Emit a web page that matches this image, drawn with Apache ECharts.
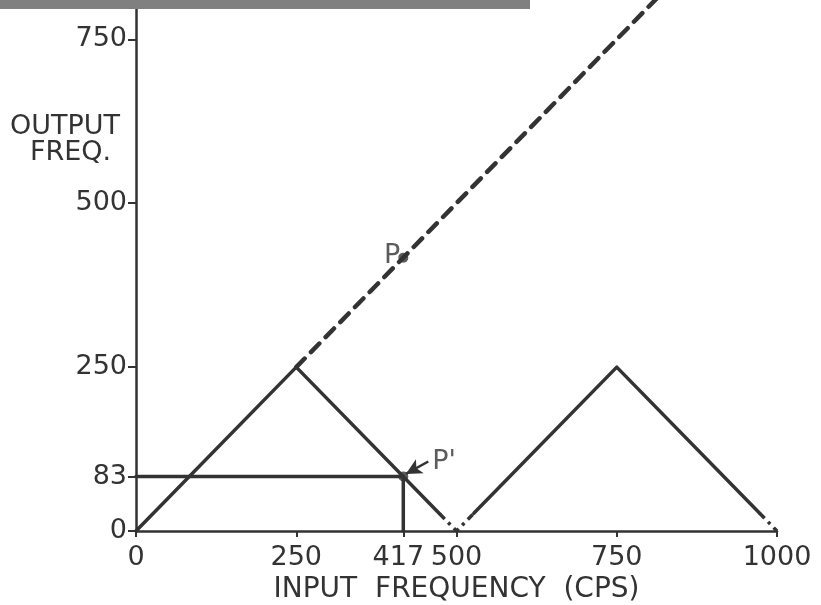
<!DOCTYPE html>
<html><head><meta charset="utf-8">
<script src="https://cdn.jsdelivr.net/npm/echarts@6/dist/echarts.min.js"></script>
<style>html,body{margin:0;padding:0;background:#fff}#c{width:821px;height:605px}</style>
</head><body><div id="c"></div>
<script>
const xTicks = [0, 250, 417, 500, 750, 1000];
const yTicks = [0, 83, 250, 500, 750];
const aliasSolidA = [[0, 0], [250, 250], [474, 26]];
const aliasDashA = [[474, 26], [500, 0], [527, 27]];
const aliasSolidB = [[527, 27], [750, 250], [973, 27]];
const aliasDashB = [[973, 27], [1000, 0]];
const trueFreq = [[250, 250], [830, 830]];
const guideH = [[0, 83], [417, 83]];
const guideV = [[417, 83], [417, 0]];
const pointP = [417, 417];
const pointPp = [417, 83];
const arrowFrom = [456, 106];

const ink = '#333333';
const font = 'DejaVu Sans';
const chart = echarts.init(document.getElementById('c'), null, {renderer: 'canvas'});

function solid(data) {
  return {type: 'line', data, symbol: 'none', lineStyle: {color: ink, width: 3.5, cap: 'round', join: 'round'}, z: 3};
}
chart.setOption({
  animation: false,
  backgroundColor: '#fff',
  grid: {left: 136, right: 44, top: 0, bottom: 74, containLabel: false, outerBoundsMode: 'none'},
  xAxis: {
    type: 'value', min: 0, max: 1000,
    name: 'INPUT  FREQUENCY  (CPS)', nameLocation: 'middle', nameGap: 44,
    nameTextStyle: {fontFamily: font, fontSize: 28, color: ink},
    axisLine: {lineStyle: {color: ink, width: 2.5}},
    axisTick: {show: true, customValues: xTicks, length: 6, lineStyle: {color: ink, width: 2}},
    axisLabel: {customValues: xTicks, hideOverlap: false,
      formatter: v => v === 417 ? '{s|417}' : String(v),
      rich: {s: {fontFamily: font, fontSize: 27, color: ink, padding: [0, 10, 0, 0]}},
      fontFamily: font, fontSize: 27, color: ink, margin: 13},
    splitLine: {show: false}
  },
  yAxis: {
    type: 'value', min: 0, max: 810,
    axisLine: {show: true, lineStyle: {color: ink, width: 2.5}},
    axisTick: {show: true, customValues: yTicks, length: 8, lineStyle: {color: ink, width: 2}},
    axisLabel: {customValues: yTicks, fontFamily: font, fontSize: 27, color: ink, margin: 9},
    splitLine: {show: false}
  },
  graphic: [
    {type: 'text', left: 10, top: 113, z: 10,
     style: {text: 'OUTPUT', fontFamily: font, fontSize: 27, fill: ink}},
    {type: 'text', left: 30, top: 139, z: 10,
     style: {text: 'FREQ.', fontFamily: font, fontSize: 27, fill: ink}},
    {type: 'rect', shape: {x: 0, y: 0, width: 530, height: 9}, style: {fill: '#808080'}, z: 100}
  ],
  series: [
    solid(aliasSolidA),
    {type: 'line', data: aliasDashA, symbol: 'none', lineStyle: {color: ink, width: 3.5, type: [7, 5, 3, 5]}, z: 3},
    solid(aliasSolidB),
    {type: 'line', data: aliasDashB, symbol: 'none', lineStyle: {color: ink, width: 3.5, type: [7, 5, 3, 5]}, z: 3},
    {type: 'line', data: trueFreq, symbol: 'none', lineStyle: {color: ink, width: 4.5, type: [12, 9], cap: 'round'}, z: 3},
    solid(guideH),
    solid(guideV),
    {type: 'scatter', data: [pointP], symbolSize: 10, itemStyle: {color: ink}, z: 5,
     label: {show: true, formatter: 'P', position: 'left', distance: 0, offset: [2, -2], fontFamily: font, fontSize: 27, color: ink}},
    {type: 'scatter', data: [pointPp], symbolSize: 10, itemStyle: {color: ink}, z: 5,
     label: {show: true, formatter: "P'", position: 'right', distance: 2, offset: [22, -15], fontFamily: font, fontSize: 27, color: ink},
     markLine: {silent: true, symbol: ['none', 'arrow'], symbolSize: [12, 16],
       lineStyle: {color: ink, width: 2.5, type: 'solid'}, label: {show: false},
       data: [[{coord: arrowFrom}, {coord: [421, 87]}]]}}
  ]
});
</script></body></html>
